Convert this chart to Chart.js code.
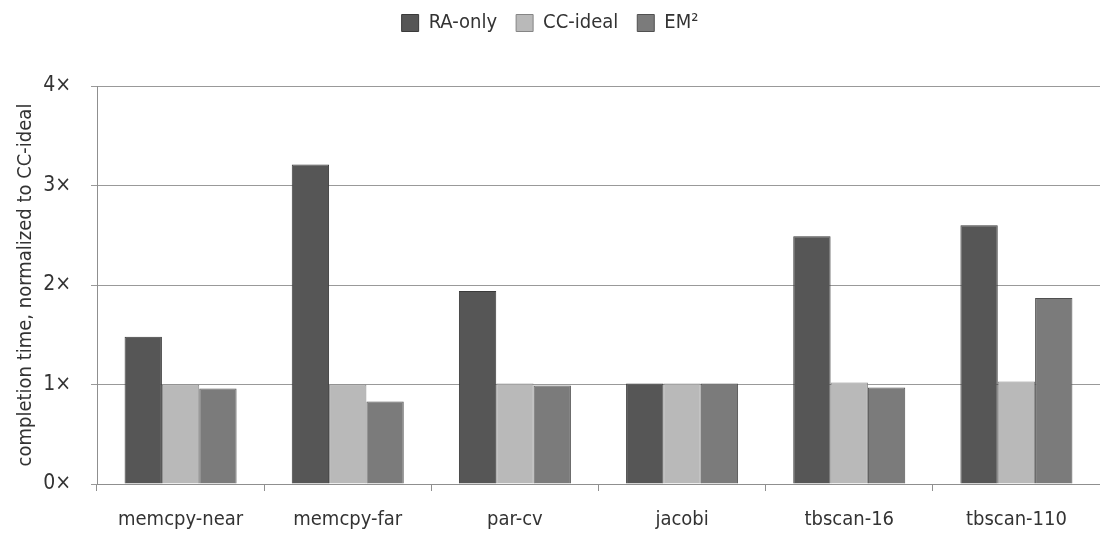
<!DOCTYPE html>
<html>
<head>
<meta charset="utf-8">
<title>Completion time</title>
<script src="https://cdn.jsdelivr.net/npm/chart.js@4.4.1/dist/chart.umd.min.js"></script>
<style>
  html, body { margin: 0; padding: 0; background: #fff; }
  #wrap { width: 1100px; height: 539px; position: relative; }
</style>
</head>
<body>
<div id="wrap"><canvas id="bar-chart"></canvas></div>
<script>
const benchmarks = ["memcpy-near", "memcpy-far", "par-cv", "jacobi", "tbscan-16", "tbscan-110"];
const raOnly  = [1.48, 3.21, 1.94, 1.01, 2.49, 2.60];
const ccIdeal = [1.00, 1.00, 1.01, 1.01, 1.02, 1.03];
const em2     = [0.96, 0.83, 0.99, 1.01, 0.97, 1.87];
const yTicks  = [0, 1, 2, 3, 4];

const FONT = "'Liberation Sans Narrow', 'DejaVu Sans Condensed', 'Open Sans', sans-serif";
Chart.defaults.font.family = FONT;
Chart.defaults.color = "#333";

// leave extra room under the legend before the plot starts
const legendSpace = {
    id: 'legendSpace',
    beforeInit(chart) {
        const fit = chart.legend.fit;
        chart.legend.fit = function () {
            fit.call(this);
            this.height = 92;
        };
    }
};

new Chart(document.getElementById("bar-chart"), {
    type: 'bar',
    plugins: [legendSpace],
    data: {
        labels: benchmarks,
        datasets: [
            { label: "RA-only",  data: raOnly,  backgroundColor: "#565656", borderColor: "#3a3a3a", borderWidth: 1 },
            { label: "CC-ideal", data: ccIdeal, backgroundColor: "#b9b9b9", borderColor: "#858585", borderWidth: 1 },
            { label: "EM²",      data: em2,     backgroundColor: "#7b7b7b", borderColor: "#505050", borderWidth: 1 }
        ]
    },
    options: {
        responsive: true,
        maintainAspectRatio: false,
        animation: false,
        layout: { padding: { top: -6, left: 0, right: 0, bottom: 0 } },
        datasets: { bar: { categoryPercentage: 0.67, barPercentage: 1.0 } },
        plugins: {
            legend: {
                position: 'top',
                labels: {
                    boxWidth: 17, boxHeight: 17, padding: 19,
                    font: { size: 20 }, color: "#333"
                }
            },
            tooltip: { enabled: false }
        },
        scales: {
            x: {
                afterFit: s => { s.height = 55; },
                grid: { drawOnChartArea: false, color: "#8f8f8f", tickLength: 7 },
                border: { color: "#8f8f8f" },
                ticks: { font: { size: 20 }, color: "#333", padding: 17 }
            },
            y: {
                min: 0, max: 4,
                afterFit: s => { s.width = 97; },
                afterBuildTicks: s => { s.ticks = yTicks.map(v => ({ value: v })); },
                grid: { color: "#999", tickLength: 6 },
                border: { color: "#8f8f8f" },
                ticks: { font: { size: 21 }, color: "#333", padding: 20, callback: v => v + "×" },
                title: { display: true, text: "completion time, normalized to CC-ideal", font: { size: 20 }, color: "#333", padding: { top: 14, bottom: 0 } }
            }
        }
    }
});
</script>
</body>
</html>
